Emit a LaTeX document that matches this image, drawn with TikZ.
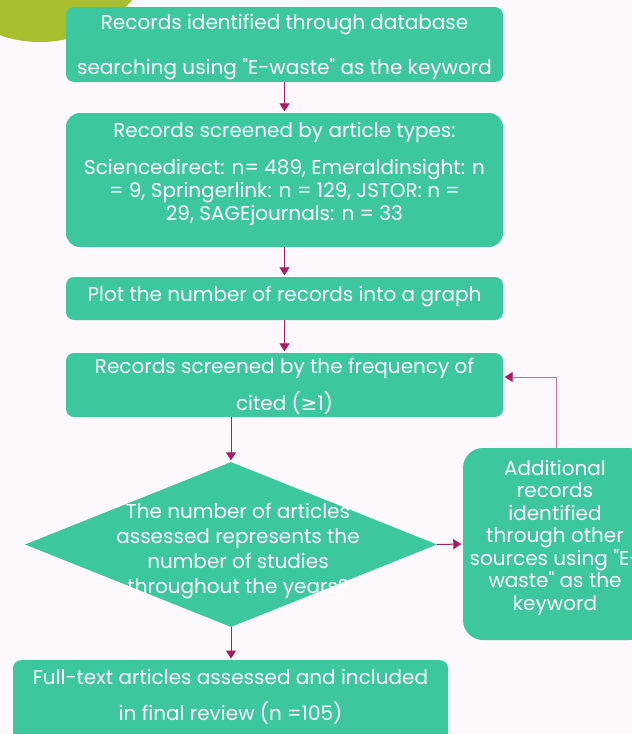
\documentclass[tikz,border=0pt]{standalone}
\usepackage{fontspec}
\setmainfont{Poppins}
\newfontfamily\symfont{DejaVu Sans}
\usetikzlibrary{shapes.geometric,arrows.meta}
\definecolor{teal1}{RGB}{61,199,158}
\definecolor{mag}{RGB}{168,28,98}
\definecolor{mauve}{RGB}{200,110,152}
\definecolor{bgc}{RGB}{253,248,252}
\definecolor{olive1}{RGB}{168,190,45}
\begin{document}
\begin{tikzpicture}[x=1pt,y=-1pt,
  box/.style={rectangle, rounded corners=8pt, fill=teal1, draw=none, inner sep=0pt},
  txt/.style={text=white, align=center, inner sep=0pt, font=\fontsize{20}{23}\selectfont},
  arr/.style={draw=mag, line width=1pt, -{Triangle[width=10pt,length=8pt,color=mag]}, shorten >=1.5pt}]
\path[use as bounding box] (0,0) rectangle (632,734);
\clip (0,0) rectangle (632,734);
\fill[bgc] (0,0) rectangle (632,734);
\fill[olive1] (40,-80) circle (122pt);

\node[box, minimum width=437pt, minimum height=75pt,
  label={[txt, yshift=-3pt]center:{Records identified through database\\[22pt]searching using \textquotedbl E-waste\textquotedbl{} as the keyword}}]
  (b1) at (284.5,44.5) {};

\node[box, rounded corners=14pt, minimum width=437pt, minimum height=134pt,
  label={[txt, yshift=6pt]center:{Records screened by article types:\\[14pt]Sciencedirect: n= 489, Emeraldinsight: n\\= 9, Springerlink: n = 129, JSTOR: n =\\29, SAGEjournals: n = 33}}]
  (b2) at (284.5,180) {};

\node[box, minimum width=437pt, minimum height=43pt,
  label={[txt, yshift=1.5pt]center:{Plot the number of records into a graph}}]
  (b3) at (284.5,298.5) {};

\node[box, minimum width=437pt, minimum height=64pt,
  label={[txt, yshift=-1.5pt]center:{Records screened by the frequency of\\[12pt]cited ({\symfont ≥}1)}}]
  (b4) at (284.5,385) {};

\node[diamond, fill=teal1, inner sep=0pt, minimum width=412pt, minimum height=165pt,
  label={[txt, font=\fontsize{20}{25}\selectfont, xshift=7pt, yshift=-6.5pt]center:{The number of articles\\assessed represents the\\number of studies\\throughout the years?}}]
  (dia) at (231,544.5) {};

\node[box, rounded corners=20pt, minimum width=186pt, minimum height=192pt,
  label={[txt, font=\fontsize{20}{22.5}\selectfont, xshift=-1pt, yshift=6.5pt]center:{Additional\\records\\identified\\through other\\sources using \textquotedbl E-\\waste\textquotedbl{} as the\\keyword}}]
  (add) at (556,544) {};

\node[box, minimum width=435pt, minimum height=130pt, anchor=north,
  label={[txt, yshift=28pt]center:{Full-text articles assessed and included\\[13pt]in final review (n =105)}}]
  (b5) at (230.5,660) {};

\draw[arr] (b1) -- (b2);
\draw[arr] (b2) -- (b3);
\draw[arr] (b3) -- (b4);
\draw[arr] (dia.north |- b4.south) -- (dia.north);
\draw[arr] (dia.east) -- (add.west);
\draw[arr] (dia.south) -- (dia.south |- b5.north);
\draw[arr, draw=mauve] (add.north) |- ([yshift=8pt]b4.east);
\end{tikzpicture}
\end{document}
